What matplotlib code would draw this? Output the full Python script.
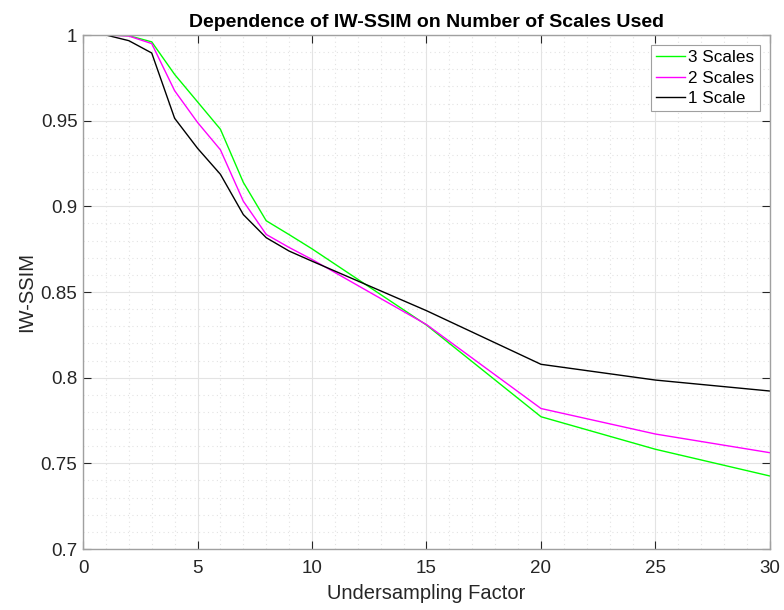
import numpy as np
import matplotlib
matplotlib.use('Agg')
import matplotlib.pyplot as plt
from matplotlib.ticker import MultipleLocator

plt.rcParams['font.family'] = ['Liberation Sans', 'DejaVu Sans']

# undersampling factors and IW-SSIM for each number of scales
factors = [1, 2, 3, 4, 5, 6, 7, 8, 9, 10, 15, 20, 25, 30]
ssim_3 = [1.0, 0.9996, 0.996, 0.977, 0.961, 0.945, 0.914, 0.8916, 0.8835, 0.8752,
          0.8307, 0.7772, 0.7582, 0.7426]
ssim_2 = [1.0, 0.9994, 0.995, 0.9675, 0.949, 0.933, 0.903, 0.8836, 0.876, 0.869,
          0.831, 0.782, 0.7671, 0.7562]
ssim_1 = [1.0, 0.9967, 0.9895, 0.9514, 0.9339, 0.9187, 0.8952, 0.8817, 0.8739, 0.868,
          0.8391, 0.8078, 0.7986, 0.7922]

fig = plt.figure(figsize=(7.84, 6.10), dpi=100)
ax = fig.add_axes([0.1059, 0.1, 0.8762, 0.8426])

ax.plot(factors, ssim_3, color='#00ff00', lw=1.0, label='3 Scales')
ax.plot(factors, ssim_2, color='#ff00ff', lw=1.0, label='2 Scales')
ax.plot(factors, ssim_1, color='#000000', lw=1.0, label='1 Scale')

ax.set_xlim(0, 30)
ax.set_ylim(0.7, 1.0)
ax.xaxis.set_major_locator(MultipleLocator(5))
ax.xaxis.set_minor_locator(MultipleLocator(1))
ax.yaxis.set_major_locator(MultipleLocator(0.05))
ax.yaxis.set_minor_locator(MultipleLocator(0.01))
ax.set_yticks([0.7, 0.75, 0.8, 0.85, 0.9, 0.95, 1.0])
ax.set_yticklabels(['0.7', '0.75', '0.8', '0.85', '0.9', '0.95', '1'])

ax.grid(which='major', color='#e3e3e3', lw=0.8, ls='-')
ax.grid(which='minor', color='#e3e3e3', lw=0.8, ls=(0, (1, 3)))
ax.set_axisbelow(True)

ax.tick_params(which='major', direction='in', length=6, top=True, right=True,
               labelsize=13.5, colors='#262626', pad=4)
ax.tick_params(axis='x', which='major', pad=8)
ax.tick_params(which='minor', length=0)
for s in ax.spines.values():
    s.set_color('#a0a0a0')
    s.set_linewidth(1.0)

ax.set_xlabel('Undersampling Factor', fontsize=14.5, color='#262626', labelpad=5)
ax.set_ylabel('IW-SSIM', fontsize=14.5, color='#262626', labelpad=3)
ax.set_title('Dependence of IW-SSIM on Number of Scales Used', fontsize=14,
             fontweight='bold', pad=6)

leg = ax.legend(loc='upper right', fontsize=12.3, fancybox=False, framealpha=1,
                edgecolor='#a0a0a0', handlelength=1.7, handletextpad=0.2,
                borderpad=0.3, labelspacing=0.3, borderaxespad=0.6)
leg.get_frame().set_linewidth(0.8)

fig.savefig('out.png', dpi=100)
